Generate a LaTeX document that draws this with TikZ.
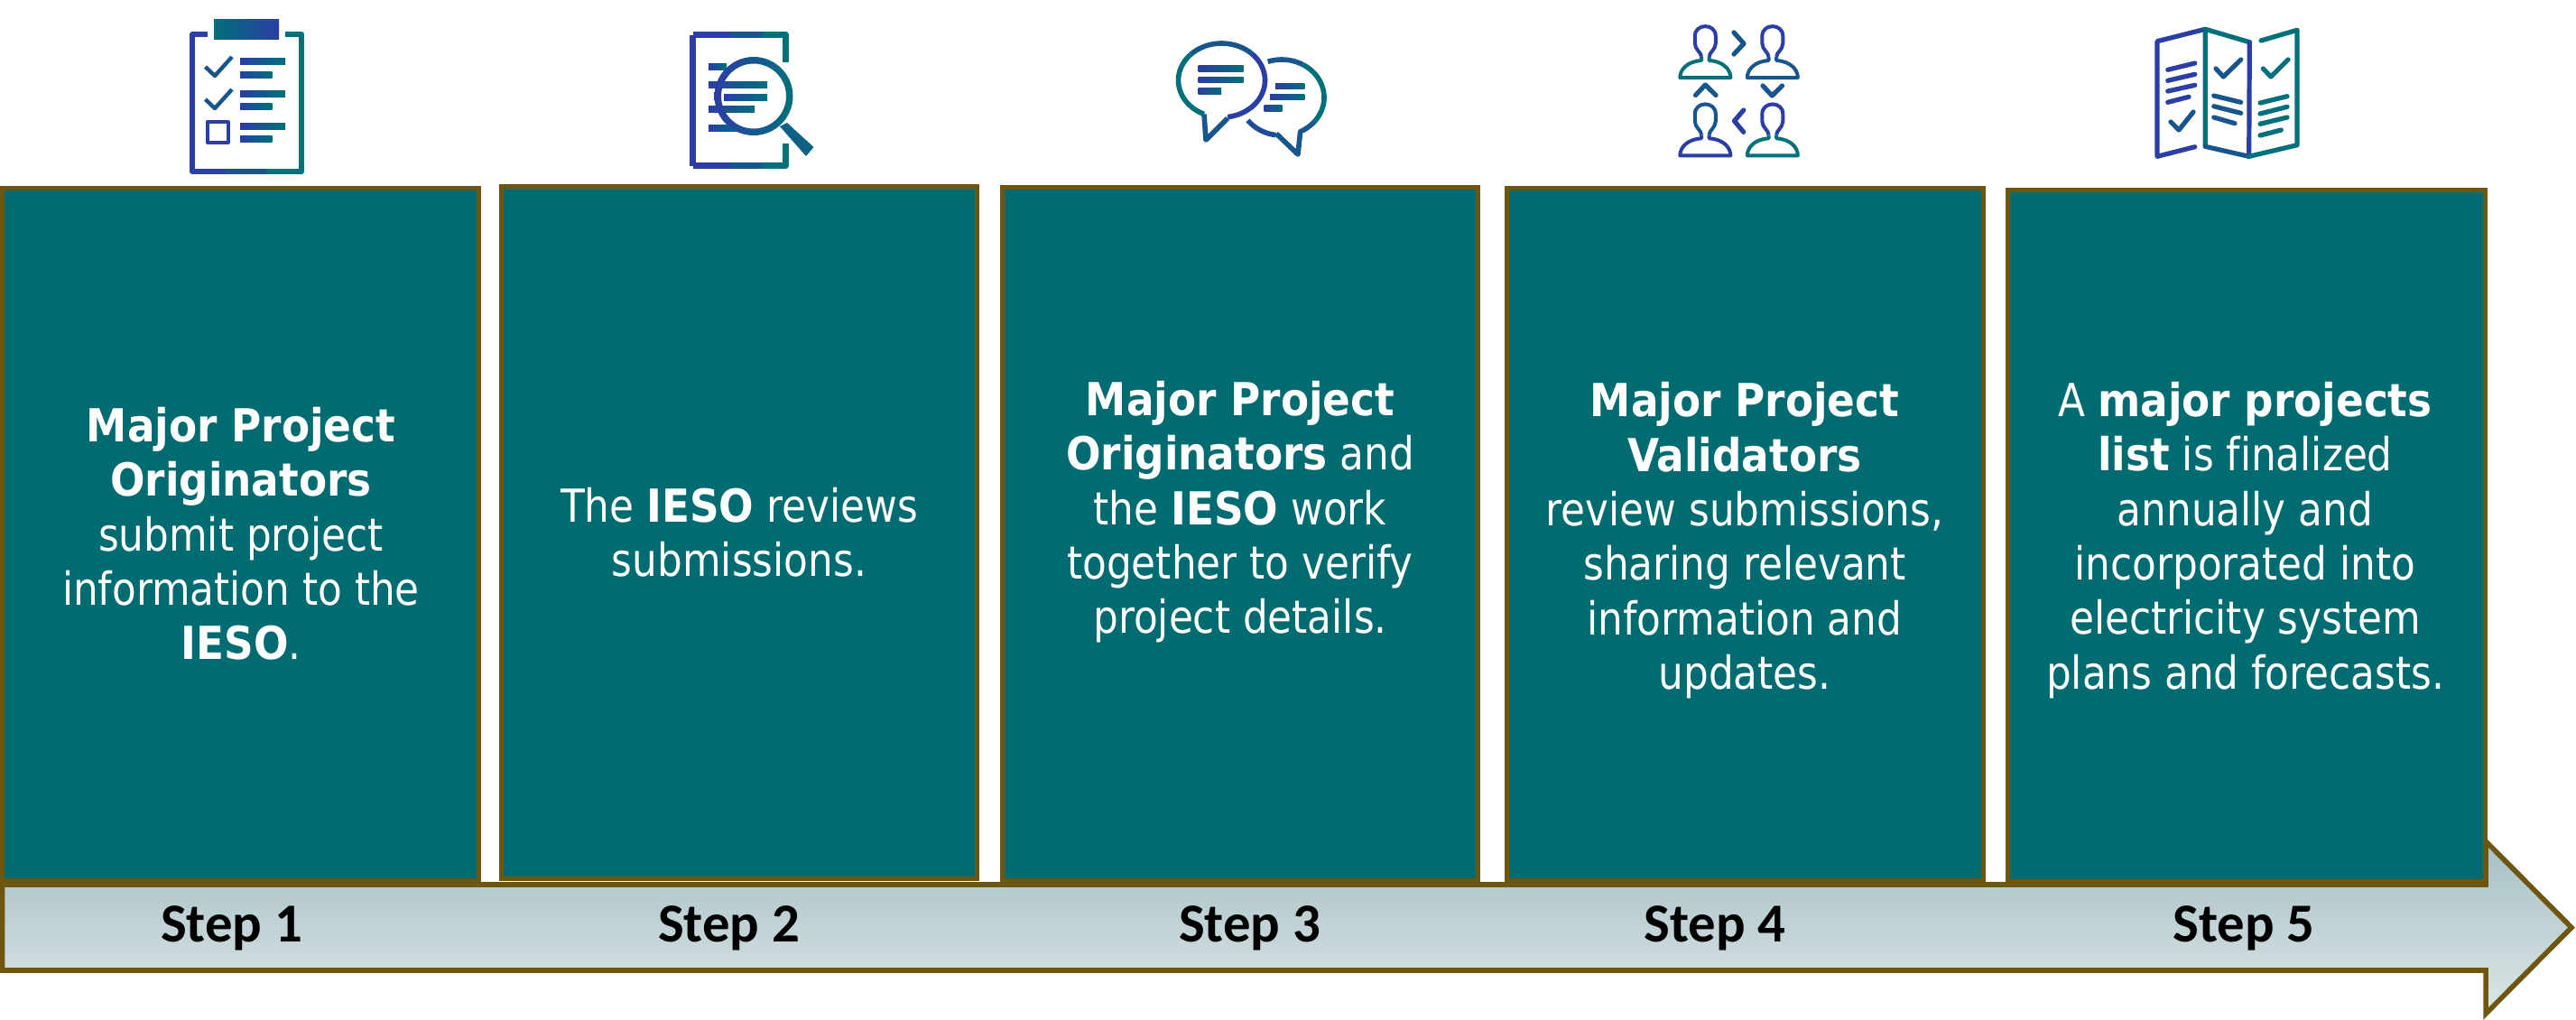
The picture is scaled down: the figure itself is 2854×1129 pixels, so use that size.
\documentclass[tikz,border=0pt]{standalone}
\usepackage{fontspec}
\setmainfont{DejaVu Sans Condensed}[BoldFont={DejaVu Sans Condensed Bold}, UprightFeatures={FakeStretch=0.965}, Ligatures=NoCommon]
\newfontfamily\stepfont{Carlito}
\usepackage{tikz}
\usetikzlibrary{positioning,calc}
\definecolor{boxteal}{HTML}{006B70}
\definecolor{boxbrown}{HTML}{6E5510}
\definecolor{iconB}{HTML}{2A3EA5}
\definecolor{iconM}{HTML}{17568C}
\definecolor{iconT}{HTML}{00707A}
\definecolor{arrowTop}{HTML}{A6C0C5}
\definecolor{arrowBot}{HTML}{DCE6E6}
\tikzset{
    stepbox/.style={draw=boxbrown, fill=boxteal, line width=1.4pt, inner sep=0pt, outer sep=0pt, anchor=north west},
    boxtext/.style={text=white, align=center, inner sep=0pt, font=\fontsize{12.6}{15.08}\selectfont},
    steptext/.style={text=black, inner sep=0pt, anchor=base, font=\fontsize{15.2}{17}\selectfont\stepfont\bfseries},
    timeline/.style={draw=boxbrown, line width=1.4pt, top color=arrowTop, bottom color=arrowBot},
    listbar/.style={left color=iconB, right color=iconT, draw=none},
    iconline/.style={line width=1.5pt, line join=round},
    thinline/.style={line width=1pt, line join=round},
    mapline/.style={line width=1.3pt, line join=round, line cap=round},
}

\begin{document}
\begin{tikzpicture}[x=0.25pt, y=-0.25pt]
    \useasboundingbox (0,0) rectangle (2854,1129);

    % Timeline arrow
    \path[timeline] (2.5,980) -- (2754,980) -- (2754,932) -- (2849,1027.5) -- (2754,1123) -- (2754,1075) -- (2.5,1075) -- cycle;

    % Step boxes
    \node[stepbox, minimum width=132pt, minimum height=191.75pt] (box1) at (2.5,208.5) {};
    \node[stepbox, minimum width=131.75pt, minimum height=191.75pt] (box2) at (555.5,206.5) {};
    \node[stepbox, minimum width=131.75pt, minimum height=192.1pt] (box3) at (1110.5,207.5) {};
    \node[stepbox, minimum width=132pt, minimum height=191.9pt] (box4) at (1669.5,208.5) {};
    \node[stepbox, minimum width=132.25pt, minimum height=191.5pt] (box5) at (2224.5,210.5) {};

    % Box texts
    \node[boxtext] (text1) at (267,591.5) {\textbf{Major Project}\\\textbf{Originators}\\submit project\\information to the\\\textbf{IESO}.};
    \node[boxtext] (text2) at (819,590) {The \textbf{IESO} reviews\\submissions.};
    \node[boxtext] (text3) at (1374,567.3) {\textbf{Major Project}\\\textbf{Originators} and\\the \textbf{IESO} work\\together to verify\\project details.};
    \node[boxtext] (text4) at (1933,598.8) {\textbf{Major Project}\\\textbf{Validators}\\review submissions,\\sharing relevant\\information and\\updates.};
    \node[boxtext] (text5) at (2487.5,598.3) {A \textbf{major projects}\\\textbf{list} is finalized\\annually and\\incorporated into\\electricity system\\plans and forecasts.};

    % Step labels
    \node[steptext] (step1) at (256.5,1043) {Step 1};
    \node[steptext] (step2) at (807.5,1043) {Step 2};
    \node[steptext] (step3) at (1384.5,1043) {Step 3};
    \node[steptext] (step4) at (1900,1043) {Step 4};
    \node[steptext] (step5) at (2486,1043) {Step 5};

    % Icon 1: clipboard
    \path[left color=iconT, right color=iconB] (237,21) rectangle (309,43);
    \draw[iconline, iconB] (230,38) -- (213,38) -- (213,190) -- (250,190);
    \draw[iconline, iconM] (250,190) -- (295,190);
    \draw[iconline, iconT] (295,190) -- (334,190) -- (334,38) -- (316,38);
    \foreach \ya/\yb/\xb in {64/71/316, 79/86/301.5, 100/107/316, 114/121/301.5, 136/143/316, 150/157/301.5}
        \path[listbar] (266,\ya) rectangle (\xb,\yb);
    \foreach \dy in {0,36}
        \draw[thinline, iconM, line width=1.1pt] (227.5,74+\dy) -- (238,84+\dy) -- (257,63+\dy);
    \draw[thinline, iconB] (230,135) rectangle (252.5,158);

    % Icon 2: document under a lens
    \draw[iconline, iconB, line width=1.75pt] (767.5,38.5) -- (767.5,183.5);
    \draw[iconline, iconB, line width=1.75pt] (767.5,38.5) -- (810,38.5);
    \draw[iconline, iconB, line width=1.75pt] (767.5,183.5) -- (810,183.5);
    \draw[iconline, iconM, line width=1.75pt] (810,38.5) -- (845,38.5);
    \draw[iconline, iconM, line width=1.75pt] (810,183.5) -- (845,183.5);
    \draw[iconline, iconT, line width=1.75pt] (845,38.5) -- (870.5,38.5) -- (870.5,69);
    \draw[iconline, iconT, line width=1.75pt] (845,183.5) -- (870.5,183.5) -- (870.5,159);
    \foreach \xa/\ya/\xb/\yb in {785/70/805/77, 785/90/850/97, 802/104/850/111, 785/117/836/124, 785/138/818/145}
        \path[listbar] (\xa,\ya) rectangle (\xb,\yb);
    \path[left color=iconB, right color=iconT, even odd rule] (835,106.5) circle[radius=43.5] (835,106.5) circle[radius=36];
    \fill[iconM!60!iconT] (864,140) -- (872,136) -- (901.5,163) -- (893,173) -- cycle;

    % Icon 3: two speech bubbles
    \draw[iconline, iconB, line width=1.4pt] plot[domain=82:-45, samples=30] ({1353.5+48*cos(\x)},{89+41*sin(\x)});
    \draw[iconline, iconM, line width=1.4pt] plot[domain=-45:-135, samples=30] ({1353.5+48*cos(\x)},{89+41*sin(\x)});
    \draw[iconline, iconT, line width=1.4pt] plot[domain=-135:-246, samples=30] ({1353.5+48*cos(\x)},{89+41*sin(\x)});
    \draw[iconline, iconM, line width=1.4pt] (1334,126.5) -- (1336,155) -- (1360,131);
    \draw[iconline, iconM, line width=1.4pt] plot[domain=-109:-60, samples=20] ({1420+47*cos(\x)},{108+42*sin(\x)});
    \draw[iconline, iconT, line width=1.4pt] plot[domain=-60:40, samples=30] ({1420+47*cos(\x)},{108+42*sin(\x)});
    \draw[iconline, iconM, line width=1.4pt] plot[domain=40:64, samples=10] ({1420+47*cos(\x)},{108+42*sin(\x)}) -- (1438,171) -- (1414,148);
    \draw[iconline, iconM!60!iconB, line width=1.4pt] plot[domain=143:98, samples=20] ({1420+47*cos(\x)},{108+42*sin(\x)});
    \foreach \xa/\ya/\xb/\yb in {1327.5/72.7/1377.5/79.3, 1327.5/85/1377.5/91.7, 1327.5/97.3/1353/104, 1413/92/1445.4/98.7, 1407/104.7/1445.4/110.7, 1400.5/116.7/1420.4/123.3}
        \path[listbar] (\xa,\ya) rectangle (\xb,\yb);

    % Icon 4: four people and chevrons
    \foreach \cx/\ty/\headcol/\bodycol in {1889.3/27/iconB/iconT, 1963.8/27/iconB/iconM, 1889.3/113.3/iconM/iconB, 1963.8/113.3/iconB/iconT} {
        \draw[thinline, \headcol] (\cx-4.3,\ty+36) .. controls (\cx-4.3,\ty+31) and (\cx-11.5,\ty+28) .. (\cx-11.5,\ty+21) -- (\cx-11.5,\ty+13)
            .. controls (\cx-11.5,\ty-1.5) and (\cx+11.5,\ty-1.5) .. (\cx+11.5,\ty+13) -- (\cx+11.5,\ty+21)
            .. controls (\cx+11.5,\ty+28) and (\cx+4.3,\ty+31) .. (\cx+4.3,\ty+36);
        \draw[thinline, \bodycol] (\cx-4.3,\ty+36) -- (\cx-4.3,\ty+40) .. controls (\cx-20,\ty+41) and (\cx-28,\ty+50) .. (\cx-28,\ty+59)
            -- (\cx+28,\ty+59) .. controls (\cx+28,\ty+50) and (\cx+20,\ty+41) .. (\cx+4.3,\ty+40) -- (\cx+4.3,\ty+36);
    }
    \draw[mapline, iconM] (1921,36) -- (1932,48.3) -- (1921,60);
    \draw[mapline, iconM] (1953,95) -- (1963.3,106) -- (1974.5,95);
    \draw[mapline, iconM] (1878.5,105.5) -- (1889.3,94) -- (1901,105.5);
    \draw[mapline, iconB] (1931.7,122) -- (1921.5,134) -- (1931.7,146.3);

    % Icon 5: folded map
    \draw[mapline, iconB] (2431.7,162.7) -- (2390,173.3) -- (2390,45.7) -- (2443.3,32.3);
    \draw[mapline, iconT] (2492.3,46.7) -- (2443.3,32.3) -- (2443.3,162.3);
    \draw[mapline, iconM] (2443.3,162.3) -- (2491.7,173.3);
    \draw[mapline, iconB] (2492.3,46.7) -- (2491.7,173.3);
    \draw[mapline, iconT] (2491.7,173.3) -- (2545,160.7) -- (2545,33.3) -- (2505,45);
    \foreach \xa/\ya/\xb/\yb/\barcol in {2401.7/77.3/2431.7/70/iconB, 2401.7/89.3/2431.7/82.3/iconB, 2401.7/101/2431.7/94.3/iconB, 2401.7/113.3/2425/107.3/iconB,
        2452.7/106/2482.7/113.3/iconM, 2452.7/117.7/2482.7/125.3/iconM, 2452.7/130/2476/136.7/iconM,
        2504/114/2534/106.7/iconT, 2504/126/2534/118.3/iconT, 2504/137.3/2534/130/iconT, 2504/150/2527.3/144/iconT}
        \draw[mapline, \barcol] (\xa,\ya) -- (\xb,\yb);
    \draw[mapline, iconM] (2405,135) -- (2414,144) -- (2430,124);
    \draw[mapline, iconM] (2455,76) -- (2463.3,85) -- (2482.7,66);
    \draw[mapline, iconT] (2507.3,76) -- (2516,85) -- (2535,66);
\end{tikzpicture}
\end{document}
